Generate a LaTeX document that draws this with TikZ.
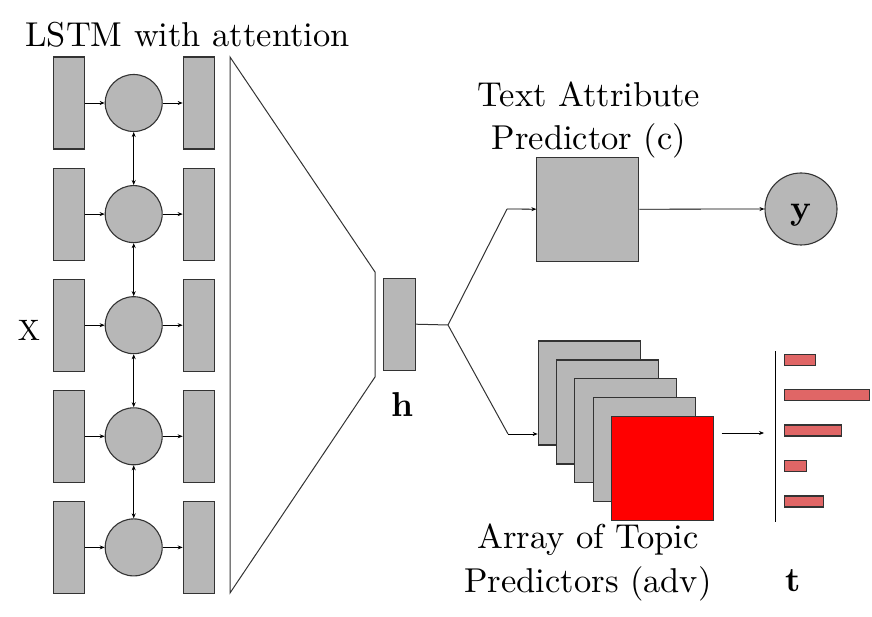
\documentclass[tikz,border=0pt]{standalone}
\usetikzlibrary{arrows.meta}
\definecolor{boxgray}{HTML}{B7B7B7}
\definecolor{barred}{HTML}{E06666}
\definecolor{edgec}{HTML}{333333}
\definecolor{predred}{HTML}{FF0000}
\tikzset{
  blk/.style={draw=edgec, fill=boxgray, line width=1.1pt, inner sep=0pt, minimum width=31pt, minimum height=92pt},
  cell/.style={circle, draw=edgec, fill=boxgray, line width=1.1pt, inner sep=0pt, minimum size=57pt},
  arr/.style={-{Stealth[length=5pt,width=4pt]}, line width=0.8pt, draw=black},
  barr/.style={{Stealth[length=5pt,width=4pt]}-{Stealth[length=5pt,width=4pt]}, line width=0.8pt, draw=black},
  lbl/.style={font=\fontsize{10}{12.6}\selectfont, align=center, inner sep=0pt, scale=3.45},
  bld/.style={font=\fontsize{10}{12.6}\selectfont\bfseries, inner sep=0pt, scale=3.45},
  pred/.style={draw=edgec, fill=boxgray, line width=1.1pt, inner sep=0pt, minimum width=102pt, minimum height=104pt},
  bar/.style={draw=edgec, fill=barred, line width=1.1pt, inner sep=0pt, minimum height=11pt, anchor=west},
  thin/.style={line width=1pt, draw=edgec}
}
\begin{document}
\begin{tikzpicture}[x=1pt,y=-1pt]
\useasboundingbox (0,0) rectangle (872,617);
% LSTM rows
\foreach \i/\yy in {1/103,2/214.1,3/325.2,4/436.3,5/547.4}{
  \node[blk] (l\i) at (68.8,\yy) {};
  \node[cell] (c\i) at (133.7,\yy) {};
  \node[blk] (r\i) at (198.7,\yy) {};
  \draw[arr] (l\i) -- (c\i);
  \draw[arr] (c\i) -- (r\i);
}
\foreach \i/\j in {1/2,2/3,3/4,4/5}{
  \draw[barr] (c\i) -- (c\j);
}
\node[lbl, anchor=base] (title) at (187.5,46.7) {LSTM with attention};
\node[font=\fontsize{10}{12}\selectfont, inner sep=0pt, scale=2.95] (xl) at (29,330.5) {X};
% encoder trapezoid
\coordinate (t1) at (230,57);
\coordinate (t2) at (375,272);
\coordinate (t3) at (375,377);
\coordinate (t4) at (230,593);
\draw[thin] (t1) -- (t2) -- (t3) -- (t4) -- cycle;
% h
\node[blk, minimum width=31.7pt] (h) at (399.2,324.2) {};
\node[bld] (hl) at (403,405) {h};
\coordinate (br) at (448,325);
\coordinate (ku) at (507,209);
\coordinate (kd) at (508,434);
\draw[thin] (h.east) -- (br);
\draw[thin] (br) -- (ku);
\draw[thin] (br) -- (kd);
% text attribute predictor
\node[pred] (tbox) at (587.9,209.2) {};
\node[lbl, anchor=base] (tlab) at (589,150) {Text Attribute\\Predictor (c)};
\draw[arr] (ku) -- (tbox.west);
\node[circle, draw=edgec, fill=boxgray, line width=1.1pt, inner sep=0pt, minimum size=72pt] (yc) at (801,209) {};
\node[bld] (yl) at (801,215) {y};
\draw[arr] (tbox.east) -- (yc.west);
% array of topic predictors
\node[pred] (s1) at (589.2,393) {};
\node[pred] (s2) at (607.55,411.95) {};
\node[pred] (s3) at (625.9,430.9) {};
\node[pred] (s4) at (644.25,449.85) {};
\node[pred, fill=predred] (s5) at (662.6,468.8) {};
\draw[arr] (kd) -- (kd -| s1.west);
\node[lbl, anchor=base] (alab) at (588,592) {Array of Topic\\Predictors (adv)};
% topic distribution
\coordinate (ta) at (721.7,433);
\coordinate (tb) at (764,433);
\draw[arr] (ta) -- (tb);
\coordinate (ax1) at (775.7,351);
\coordinate (ax2) at (775.7,521.7);
\draw[thin, draw=black] (ax1) -- (ax2);
\node[bar, minimum width=30.7pt] (b1) at (784,359.7) {};
\node[bar, minimum width=85pt] (b2) at (784,395.3) {};
\node[bar, minimum width=56.7pt] (b3) at (784,430.5) {};
\node[bar, minimum width=21.7pt] (b4) at (784,466.2) {};
\node[bar, minimum width=38.7pt] (b5) at (784,501.5) {};
\node[bld] (tl) at (793,581) {t};
\end{tikzpicture}
\end{document}
